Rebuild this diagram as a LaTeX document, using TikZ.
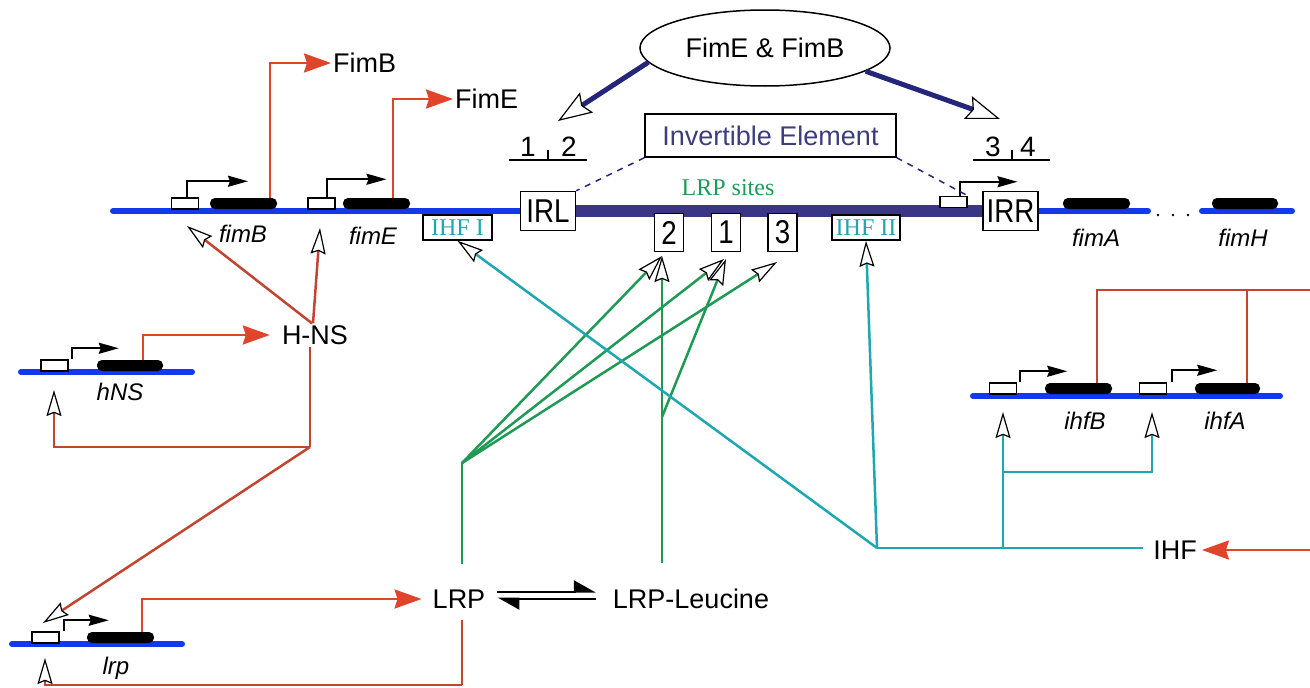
\documentclass[tikz,border=0pt]{standalone}
\usepackage{fontspec}
\usepackage{graphicx}
\setmainfont{Liberation Sans}
\newfontfamily\timesfont{Liberation Serif}
\usetikzlibrary{arrows.meta,shapes.geometric}
\definecolor{dnablue}{HTML}{1238F0}
\definecolor{invpurple}{HTML}{3B3585}
\definecolor{flipnavy}{HTML}{25257A}
\definecolor{exprred}{HTML}{E0452B}
\definecolor{regred}{HTML}{C2462F}
\definecolor{lrpgreen}{HTML}{1F9A55}
\definecolor{ihfteal}{HTML}{1EA7B0}
\definecolor{ietext}{HTML}{3D3D7E}
\newcommand\condensed[1]{\scalebox{0.84}[1]{#1}}
\tikzset{
  hollow/.tip={Stealth[length=26pt,width=15pt,inset=3pt,fill=white,color=black,line width=1.2pt]},
  bighollow/.tip={Stealth[length=34pt,width=24pt,inset=5pt,fill=white,color=black,line width=1.2pt]},
  redhead/.tip={Stealth[length=27pt,width=19pt,inset=3pt]},
  tsshead/.tip={Stealth[length=20pt,width=11pt,inset=2pt]},
  dna/.style={line width=6pt,dnablue,line cap=round},
  invbar/.style={line width=12pt,invpurple},
  genebar/.style={fill=black,rounded corners=5pt,minimum width=67pt,minimum height=11pt,inner sep=0pt},
  promo/.style={draw,fill=white,line width=1.5pt,minimum width=27pt,minimum height=11pt,inner sep=0pt},
  tss/.style={line width=2pt,-tsshead},
  lbl/.style={font=\fontsize{27}{32}\selectfont,inner sep=2pt,text depth=0pt},
  genelbl/.style={font=\fontsize{24}{28}\selectfont\itshape,inner sep=0pt,anchor=base},
  sitebox/.style={draw,line width=1.5pt,fill=white,font=\fontsize{33}{38}\selectfont,inner sep=0pt,minimum width=29pt,minimum height=38pt},
  ihfbox/.style={draw,line width=1.5pt,fill=white,text=ihfteal,font=\timesfont\fontsize{24}{28}\selectfont,inner sep=0pt,minimum height=25pt},
  halfsite/.style={font=\fontsize{28}{32}\selectfont,inner sep=0pt},
  expr/.style={exprred,line width=2.5pt,-redhead},
  reg/.style={regred,line width=2.5pt},
  lrpline/.style={lrpgreen,line width=2.5pt},
  ihfline/.style={ihfteal,line width=2.5pt},
  flip/.style={flipnavy,line width=5pt,-bighollow},
  eqm/.style={line width=2pt}
}
\begin{document}
\begin{tikzpicture}[x=1pt,y=-1pt]
  \useasboundingbox (0,0) rectangle (1310,688);

  % DNA backbones
  \coordinate (topL) at (113,211);
  \coordinate (irlc) at (548,211);
  \coordinate (irrc) at (1010.5,211);
  \coordinate (topR) at (1148,211);
  \coordinate (fimHL) at (1202,211);
  \coordinate (fimHR) at (1292,211);
  \coordinate (hnsL) at (21,372);
  \coordinate (hnsR) at (192,372);
  \coordinate (lrpL) at (12,644);
  \coordinate (lrpR) at (182,644);
  \coordinate (ihfL) at (973,396);
  \coordinate (ihfR) at (1280,396);
  \draw[dna] (topL) -- (irlc);
  \draw[invbar] (irlc) -- (irrc);
  \draw[dna] (irrc) -- (topR);
  \draw[dna] (fimHL) -- (fimHR);
  \draw[dna] (hnsL) -- (hnsR);
  \draw[dna] (lrpL) -- (lrpR);
  \draw[dna] (ihfL) -- (ihfR);
  \foreach \x in {1158,1173,1188} \fill (\x,215) circle (1.3pt);

  % promoters and genes
  \node[promo] (pfimB) at (185,203.5) {};
  \node[genebar] (gfimB) at (243.5,203.5) {};
  \node[promo] (pfimE) at (321.5,203.5) {};
  \node[genebar] (gfimE) at (376.5,203.5) {};
  \node[promo] (pIRR) at (953.5,202) {};
  \node[genebar] (gfimA) at (1096.5,203.5) {};
  \node[genebar,minimum width=66pt] (gfimH) at (1245,203.5) {};
  \node[promo] (phns) at (54.5,365.5) {};
  \node[genebar,minimum width=66pt] (ghns) at (130,365.5) {};
  \node[promo] (plrp) at (45.5,637.5) {};
  \node[genebar] (glrp) at (120.5,637.5) {};
  \node[promo] (pihfB) at (1003,388.5) {};
  \node[genebar] (gihfB) at (1078.5,388.5) {};
  \node[promo] (pihfA) at (1153,388.5) {};
  \node[genebar,minimum width=65pt] (gihfA) at (1227.5,388.5) {};

  \draw[tss] (pfimB.north) ++(2,0) -- ++(0,-16) -- ++(61,0);
  \draw[tss] (pfimE.north) ++(5,0) -- ++(0,-18) -- ++(60,0);
  \draw[tss] (pIRR.north) ++(6,0) -- ++(0,-14) -- ++(58,0);
  \draw[tss] (phns.north east) ++(3,0) -- ++(0,-11) -- ++(47,0);
  \draw[tss] (plrp.north east) ++(4,0) -- ++(0,-11) -- ++(45,0);
  \draw[tss] (pihfB.north east) ++(3,0) -- ++(0,-11) -- ++(47,0);
  \draw[tss] (pihfA.north east) ++(5,0) -- ++(0,-12) -- ++(45,0);

  \node[genelbl] (lfimB) at (243,242) {fimB};
  \node[genelbl] (lfimE) at (373,244) {fimE};
  \node[genelbl] (lfimA) at (1096,246) {fimA};
  \node[genelbl] (lfimH) at (1243,246) {fimH};
  \node[genelbl] (lhns) at (120,400) {hNS};
  \node[genelbl] (llrp) at (116,674) {lrp};
  \node[genelbl] (lihfB) at (1085,429) {ihfB};
  \node[genelbl] (lihfA) at (1225,429) {ihfA};

  % invertible element
  \node[sitebox,minimum width=55pt,minimum height=39pt] (IRL) at (irlc) {\condensed{IRL}};
  \node[sitebox,minimum width=55pt,minimum height=39pt] (IRR) at (irrc) {\condensed{IRR}};
  \node[ihfbox,minimum width=69pt] (IHFI) at (457.5,227.5) {IHF I};
  \node[ihfbox,minimum width=68pt] (IHFII) at (866,227.5) {IHF II};
  \foreach \n/\x in {2/669,1/726,3/782.5}
    \node[sitebox] (site\n) at (\x,232.5) {\condensed{\n}};
  \node[font=\timesfont\fontsize{24}{28}\selectfont,text=lrpgreen] (lrpsites) at (728,188) {LRP sites};

  \node[lbl,draw,line width=1.5pt,text=ietext,minimum width=251pt,minimum height=43pt] (IE) at (770.5,135.5) {Invertible Element};
  \draw[flipnavy,line width=1.5pt,dash pattern=on 6pt off 6pt] (IE.south west) -- (IRL.north east);
  \draw[flipnavy,line width=1.5pt,dash pattern=on 6pt off 6pt] (IE.south east) -- (pIRR.north east);

  \node[halfsite] (hs1) at (528,147) {1};
  \node[halfsite] (hs2) at (569,147) {2};
  \node[halfsite] (hs3) at (993,147) {3};
  \node[halfsite] (hs4) at (1028,147) {4};
  \draw[line width=1.5pt] (509,160) -- (587,160) (548,160) -- (548,150);
  \draw[line width=1.5pt] (973,160) -- (1050,160) (1012,160) -- (1012,150);

  \node[lbl,draw,ellipse,line width=1.5pt,minimum width=250pt,minimum height=76pt] (FimEB) at (765,48) {FimE \& FimB};
  \coordinate (flipL) at (558,121);
  \coordinate (flipR) at (1000,119);
  \draw[flip] (FimEB.187) -- (flipL);
  \draw[flip] (FimEB.347) -- (flipR);

  % fimB / fimE products
  \node[lbl,anchor=west] (FimB) at (331,63) {FimB};
  \node[lbl,anchor=west] (FimE) at (453,99) {FimE};
  \draw[expr] (gfimB.north east) ++(-7,0) |- (FimB.west);
  \draw[expr] (gfimE.north east) ++(-17,0) |- (FimE.west);

  % H-NS
  \node[lbl] (HNS) at (315,335) {H-NS};
  \coordinate (tfimB) at (187,226);
  \coordinate (tfimE) at (320,228);
  \coordinate (hnsJ) at (310,447);
  \coordinate (thns) at (54,390);
  \coordinate (tlrpA) at (43,623);
  \draw[expr,shorten >=10pt] (ghns.north east) ++(-20,0) |- (HNS.west);
  \draw[reg,-hollow] (HNS.north) ++(-3,0) -- (tfimB);
  \draw[reg,-hollow] (HNS.north) ++(-2,0) -- (tfimE);
  \draw[reg] (HNS.south) ++(-5,0) -- (hnsJ);
  \draw[reg,-hollow] (hnsJ) -| (thns);
  \draw[reg,-hollow] (hnsJ) -- (tlrpA);

  % LRP
  \node[lbl] (LRP) at (459,599) {LRP};
  \node[lbl] (LRPL) at (691,599) {LRP-Leucine};
  \coordinate (lrpJ) at (462,685);
  \coordinate (tlrpB) at (45,658);
  \draw[expr,shorten >=9pt] (glrp.north east) ++(-12,0) |- (LRP.west);
  \draw[reg] (LRP.south) ++(3,10) -- (lrpJ);
  \draw[reg,-hollow] (lrpJ) -| (tlrpB);
  \draw[eqm,shorten <=10pt,shorten >=15pt,-{Stealth[left,length=20pt,width=22pt,inset=0pt]}]
    ([yshift=7.5pt]LRP.east) -- ([yshift=7.5pt]LRPL.west);
  \draw[eqm,shorten <=15pt,shorten >=10pt,-{Stealth[left,length=20pt,width=22pt,inset=0pt]}]
    ([yshift=0.5pt]LRPL.west) -- ([yshift=0.5pt]LRP.east);

  \coordinate (lrpfork) at (462,463);
  \coordinate (leufork) at (662,417);
  \coordinate (t2a) at (662,256);
  \coordinate (t1a) at (724,259);
  \coordinate (t3a) at (777,262);
  \coordinate (t1b) at (726,259);
  \draw[lrpline] (LRP.north) ++(3,-24) -- (lrpfork);
  \foreach \t in {t2a,t1a,t3a}
    \draw[lrpline,-hollow] (lrpfork) -- (\t);
  \draw[lrpline,-hollow] (leufork |- LRPL.north) ++(0,-24) -- (t2a);
  \draw[lrpline,-hollow] (leufork) -- (t1b);

  % IHF
  \node[lbl] (IHF) at (1175,550) {IHF};
  \coordinate (ihfJ) at (877,548);
  \coordinate (ihfK) at (1003,548);
  \coordinate (ihfM) at (1003,472);
  \coordinate (tihfB) at (1003,412);
  \coordinate (tihfA) at (1152,412);
  \draw[ihfline] (IHF.west) ++(-8,-2) -- (ihfJ);
  \draw[ihfline,-hollow] (ihfJ) -- (IHFI.south);
  \draw[ihfline,-hollow] (ihfJ) -- (IHFII.south);
  \draw[ihfline,-hollow] (ihfK) -- (tihfB);
  \draw[ihfline,-hollow] (ihfM) -| (tihfA);

  \coordinate (loopA) at (1310,290);
  \coordinate (loopB) at (1310,550);
  \draw[reg] (gihfB.north east) ++(-15,0) |- (loopA);
  \draw[reg] (gihfA.north east) ++(-13,0) -- ++(0,-93);
  \draw[expr,shorten >=3pt] (loopB) -- (IHF.east);

\end{tikzpicture}
\end{document}
